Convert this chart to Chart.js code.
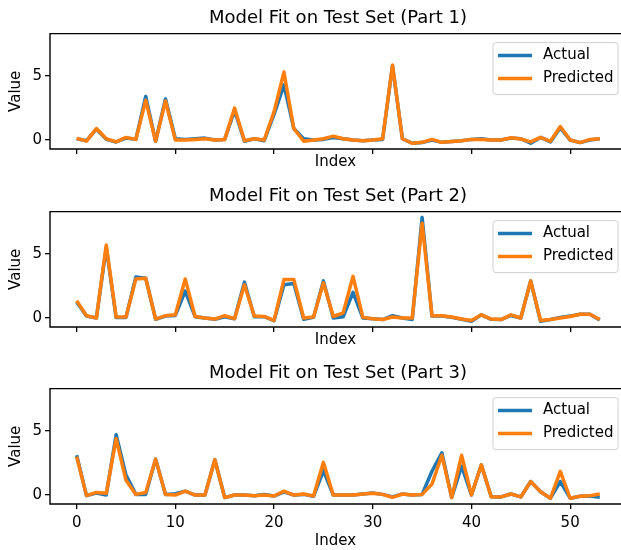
<!DOCTYPE html>
<html><head><meta charset="utf-8">
<script src="https://cdn.jsdelivr.net/npm/chart.js@4"></script>
<style>
html,body{margin:0;padding:0;background:#fff;overflow:hidden;width:621px;height:550px;position:relative;}
.panel{position:absolute;left:0;}
</style></head><body>
<canvas id="c1" class="panel" width="621" height="171" style="top:0px"></canvas>
<canvas id="c2" class="panel" width="621" height="171" style="top:178px"></canvas>
<canvas id="c3" class="panel" width="621" height="195" style="top:355px"></canvas>
<script>
const indexValues = [0,1,2,3,4,5,6,7,8,9,10,11,12,13,14,15,16,17,18,19,20,21,22,23,24,25,26,27,28,29,30,31,32,33,34,35,36,37,38,39,40,41,42,43,44,45,46,47,48,49,50,51,52,53];
const xTickValues = [0,10,20,30,40,50];
const yTickValues = [0,5];
const seriesNames = ['Actual','Predicted'];
const panelTitles = ['Model Fit on Test Set (Part 1)','Model Fit on Test Set (Part 2)','Model Fit on Test Set (Part 3)'];

const actual1 = [0.1,-0.05,0.85,0.05,-0.15,0.15,0.05,3.4,-0.1,3.2,0.1,0.05,0.1,0.15,0.0,0.05,2.3,-0.1,0.1,-0.05,2.0,4.3,0.9,0.1,0.0,0.05,0.2,0.1,0.0,-0.05,0.0,0.05,5.8,0.1,-0.25,-0.2,0.0,-0.18,-0.12,-0.05,0.05,0.1,0.0,0.0,0.15,0.1,-0.25,0.2,-0.15,0.95,0.0,-0.2,0.0,0.1];
const predicted1 = [0.13,-0.08,0.9,0.1,-0.15,0.2,0.05,3.1,-0.1,3.05,0.0,0.0,0.05,0.1,0.0,0.05,2.5,-0.05,0.1,0.0,2.2,5.3,0.9,-0.1,0.0,0.1,0.3,0.1,0.0,-0.05,0.0,0.1,5.85,0.1,-0.25,-0.18,0.05,-0.18,-0.12,-0.05,0.05,0.05,0.0,0.0,0.18,0.08,-0.15,0.2,-0.1,1.05,0.0,-0.2,0.05,0.1];

const actual2 = [1.25,0.15,0.0,5.5,0.05,0.05,3.2,3.1,-0.1,0.15,0.2,2.1,0.1,0.0,-0.1,0.1,-0.05,2.8,0.1,0.1,-0.2,2.6,2.7,-0.1,0.05,2.9,0.0,0.1,2.0,0.0,-0.05,-0.12,0.18,0.0,-0.12,7.85,0.15,0.15,0.05,-0.1,-0.25,0.25,-0.1,-0.12,0.2,0.0,2.9,-0.25,-0.12,0.05,0.15,0.3,0.3,-0.15];
const predicted2 = [1.35,0.18,0.0,5.7,0.08,0.08,3.05,3.1,-0.08,0.18,0.25,3.05,0.12,0.0,-0.08,0.18,-0.05,2.6,0.15,0.12,-0.18,3.0,3.0,0.0,0.08,2.75,0.12,0.4,3.25,0.05,-0.05,-0.12,0.08,0.0,0.0,7.4,0.18,0.18,0.08,-0.08,-0.2,0.25,-0.08,-0.12,0.25,0.0,2.9,-0.2,-0.12,0.0,0.12,0.3,0.3,-0.12];

const actual3 = [3.1,-0.05,0.15,0.0,4.7,1.55,0.05,0.05,2.8,0.05,0.1,0.3,0.0,0.0,2.75,-0.2,0.0,0.0,-0.05,0.05,-0.08,0.25,0.0,0.05,-0.1,1.9,0.0,0.0,0.0,0.08,0.15,0.05,-0.15,0.08,0.0,0.05,1.85,3.3,-0.2,2.25,0.0,2.35,-0.13,-0.15,0.08,-0.15,1.05,0.25,-0.25,1.05,-0.25,-0.1,-0.08,-0.18];
const predicted3 = [3.0,-0.05,0.2,0.13,4.4,1.15,0.05,0.2,2.8,0.05,0.0,0.3,0.0,0.0,2.75,-0.2,0.0,0.0,-0.05,0.0,-0.08,0.3,0.0,0.08,-0.08,2.55,0.0,0.0,0.0,0.08,0.13,0.05,-0.18,0.08,0.0,0.05,0.85,3.1,-0.2,3.1,0.0,2.35,-0.13,-0.15,0.08,-0.15,1.05,0.25,-0.25,1.85,-0.25,-0.1,-0.05,0.08];

const FONT = 'DejaVu Sans';
Chart.defaults.font.family = FONT;
Chart.defaults.color = '#000';

const framePlugin = {
  id: 'frame',
  afterLayout(chart) {
    if (chart.titleBlock) {
      // matplotlib centres the title over the full axes (which runs past the cropped right edge)
      chart.titleBlock.left = chart.chartArea.left;
      chart.titleBlock.right = chart.chartArea.right + 5;
    }
  },
  afterDatasetsDraw(chart) {
    const {ctx, chartArea: a} = chart;
    ctx.save();
    ctx.strokeStyle = '#000';
    ctx.lineWidth = 1.4;
    ctx.beginPath();
    ctx.moveTo(a.right + 2, a.top);
    ctx.lineTo(a.left, a.top);
    ctx.lineTo(a.left, a.bottom);
    ctx.lineTo(a.right + 2, a.bottom);
    ctx.stroke();
    ctx.restore();
  }
};

const boxLegend = {
  id: 'boxLegend',
  afterDraw(chart) {
    const {ctx, chartArea: a} = chart;
    const w = 125, h = 52;
    const x = a.right - 3 - w, y = a.top + 9;
    ctx.save();
    ctx.beginPath();
    ctx.roundRect(x, y, w, h, 3);
    ctx.fillStyle = 'rgba(255,255,255,0.8)';
    ctx.fill();
    ctx.strokeStyle = '#d0d0d0';
    ctx.lineWidth = 1;
    ctx.stroke();
    ctx.font = '15px "' + FONT + '"';
    ctx.textBaseline = 'middle';
    ctx.textAlign = 'left';
    chart.data.datasets.forEach((ds, k) => {
      const ly = y + 13 + k * 23;
      ctx.beginPath();
      ctx.moveTo(x + 5, ly);
      ctx.lineTo(x + 39, ly);
      ctx.strokeStyle = ds.borderColor;
      ctx.lineWidth = 3.5;
      ctx.stroke();
      ctx.fillStyle = '#000';
      ctx.fillText(ds.label, x + 50, ly);
    });
    ctx.restore();
  }
};

function makeChart(id, title, actual, predicted, showXTicks, xAxisHeight) {
  const toPts = arr => arr.map((v, i) => ({x: indexValues[i], y: v}));
  return new Chart(document.getElementById(id), {
    type: 'line',
    data: {
      datasets: [
        {label: seriesNames[0], data: toPts(actual), borderColor: '#1f77b4', backgroundColor: '#1f77b4',
         borderWidth: 3.5, pointRadius: 0, tension: 0, fill: false, order: 1, borderJoinStyle: 'round'},
        {label: seriesNames[1], data: toPts(predicted), borderColor: '#ff7f0e', backgroundColor: '#ff7f0e',
         borderWidth: 3.5, pointRadius: 0, tension: 0, fill: false, order: 0, borderJoinStyle: 'round'}
      ]
    },
    options: {
      responsive: false,
      animation: false,
      devicePixelRatio: 1,
      events: [],
      layout: {padding: {left: 0, right: 0, top: 0, bottom: 0}},
      plugins: {
        legend: {display: false},
        tooltip: {enabled: false},
        title: {display: true, text: title, color: '#000', font: {size: 18, weight: 'normal', family: FONT, lineHeight: 1.2},
                padding: {top: 8, bottom: 4}}
      },
      scales: {
        x: {
          type: 'linear', min: -2.7, max: 55.15,
          afterBuildTicks: s => { s.ticks = xTickValues.map(v => ({value: v})); },
          afterFit: s => { s.height = xAxisHeight; },
          grid: {drawOnChartArea: false, drawTicks: true, tickLength: 5, color: '#000', lineWidth: 1.3},
          border: {display: false},
          ticks: {display: showXTicks, color: '#000', font: {size: 15, family: FONT}, padding: 5, maxRotation: 0, autoSkip: false},
          title: {display: true, text: 'Index', color: '#000', font: {size: 15, family: FONT, lineHeight: 1.2}, padding: {top: 0, bottom: 0}}
        },
        y: {
          type: 'linear', min: -0.7, max: 8.3,
          afterBuildTicks: s => { s.ticks = yTickValues.map(v => ({value: v})); },
          afterFit: s => { s.width = 50; },
          grid: {drawOnChartArea: false, drawTicks: true, tickLength: 5, color: '#000', lineWidth: 1.3},
          border: {display: false},
          ticks: {color: '#000', font: {size: 15, family: FONT}, padding: 3},
          title: {display: true, text: 'Value', color: '#000', font: {size: 15, family: FONT, lineHeight: 1.2}, padding: {top: 7, bottom: 0}}
        }
      }
    },
    plugins: [framePlugin, boxLegend]
  });
}

makeChart('c1', panelTitles[0], actual1, predicted1, false, 22);
makeChart('c2', panelTitles[1], actual2, predicted2, false, 22);
makeChart('c3', panelTitles[2], actual3, predicted3, true, 46);
</script>
</body></html>
